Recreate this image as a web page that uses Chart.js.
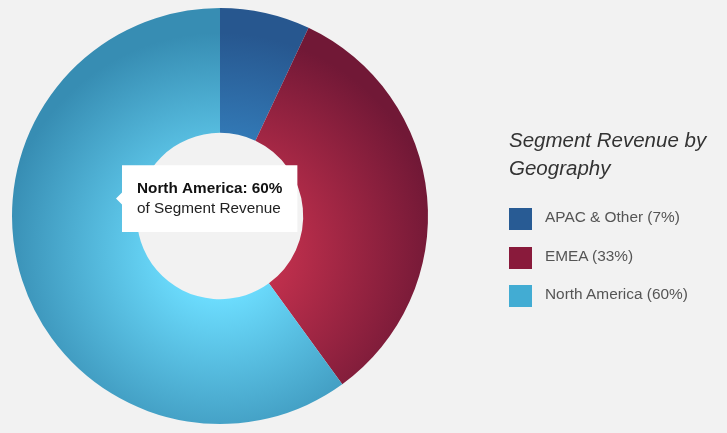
<!DOCTYPE html>
<html>
<head>
<meta charset="utf-8">
<script src="https://cdn.jsdelivr.net/npm/chart.js@4/dist/chart.umd.min.js"></script>
<style>
  html, body { margin: 0; padding: 0; background: #f2f2f2; }
  #wrap { position: relative; width: 727px; height: 433px; background: #f2f2f2; overflow: hidden; }
  #c { position: absolute; left: 0; top: 0; }
  #legend { position: absolute; left: 509px; top: 0; font-family: "Liberation Sans", Arial, sans-serif; }
  #legend .title { position: absolute; left: 0; top: 126px; width: 218px; font-size: 20.5px; line-height: 28px; font-style: italic; color: #333; white-space: nowrap; }
  #legend .item { position: absolute; left: 0; height: 22px; white-space: nowrap; }
  #legend .sw { position: absolute; left: 0; top: 0; width: 23px; height: 22px; }
  #legend .txt { position: absolute; left: 36px; top: -2px; font-size: 15.4px; line-height: 22px; color: #555; }
</style>
</head>
<body>
<div id="wrap">
  <canvas id="c" width="727" height="433"></canvas>
  <div id="legend"></div>
</div>
<script>
const categories = ["APAC & Other", "EMEA", "North America"];
const values = [7, 33, 60];
const legendTitle = ["Segment Revenue by", "Geography"];
const tooltipSubtitle = "of Segment Revenue";
const swatchColors = ["#285b94", "#891a3b", "#42acd3"];
const lightColors = ["#3a90d0", "#c8324f", "#6ddeff"];
const darkColors = ["#27578f", "#711836", "#378db3"];
const activeIndex = 2;

function sliceFill(ctx) {
  const chart = ctx.chart;
  const a = chart.chartArea;
  const i = ctx.dataIndex;
  if (!a) return swatchColors[i];
  const cx = (a.left + a.right) / 2;
  const cy = (a.top + a.bottom) / 2;
  const R = Math.min(a.right - a.left, a.bottom - a.top) / 2;
  const gy = cy + 0.17 * R;
  const g = chart.ctx.createRadialGradient(cx, gy, 0, cx, gy, 1.05 * R);
  g.addColorStop(0, lightColors[i]);
  g.addColorStop(0.2, lightColors[i]);
  g.addColorStop(1, darkColors[i]);
  return g;
}

Chart.Tooltip.positioners.centerLeft = function(elements, eventPosition) {
  const a = this.chart.chartArea;
  const cx = (a.left + a.right) / 2;
  const cy = (a.top + a.bottom) / 2;
  const R = Math.min(a.right - a.left, a.bottom - a.top) / 2;
  return { x: cx - 0.5 * R, y: cy - 0.084 * R, xAlign: 'left', yAlign: 'center' };
};

const chart = new Chart(document.getElementById('c'), {
  type: 'doughnut',
  data: {
    labels: categories,
    datasets: [{
      data: values,
      backgroundColor: sliceFill,
      hoverBackgroundColor: sliceFill,
      borderWidth: 0,
      hoverBorderWidth: 0,
      hoverOffset: 0
    }]
  },
  options: {
    responsive: false,
    animation: false,
    devicePixelRatio: 1,
    cutout: '40%',
    layout: { padding: { left: 12, top: 8, right: 299, bottom: 9 } },
    events: [],
    plugins: {
      legend: { display: false },
      tooltip: {
        enabled: true,
        position: 'centerLeft',
        xAlign: 'left',
        yAlign: 'center',
        backgroundColor: '#ffffff',
        titleColor: '#111111',
        bodyColor: '#222222',
        titleFont: { family: 'Liberation Sans', size: 15.3, weight: 'bold' },
        bodyFont: { family: 'Liberation Sans', size: 15.3, weight: 'normal' },
        padding: { top: 14, bottom: 14, left: 15, right: 15 },
        titleMarginBottom: 2,
        bodySpacing: 0,
        caretSize: 6,
        caretPadding: 0,
        cornerRadius: 0,
        displayColors: false,
        borderWidth: 0,
        callbacks: {
          title: (items) => items.length ? `${items[0].label}: ${items[0].raw}%` : '',
          label: () => tooltipSubtitle
        }
      }
    }
  }
});

chart.tooltip.setActiveElements([{ datasetIndex: 0, index: activeIndex }], { x: 0, y: 0 });
chart.update();

// HTML legend built from the data arrays
const legend = document.getElementById('legend');
const t = document.createElement('div');
t.className = 'title';
t.innerHTML = legendTitle.join('<br>');
legend.appendChild(t);
categories.forEach((cat, i) => {
  const item = document.createElement('div');
  item.className = 'item';
  item.style.top = (208 + i * 38.5) + 'px';
  const sw = document.createElement('div');
  sw.className = 'sw';
  sw.style.background = swatchColors[i];
  const tx = document.createElement('div');
  tx.className = 'txt';
  tx.textContent = `${cat} (${values[i]}%)`;
  item.appendChild(sw);
  item.appendChild(tx);
  legend.appendChild(item);
});
</script>
</body>
</html>
